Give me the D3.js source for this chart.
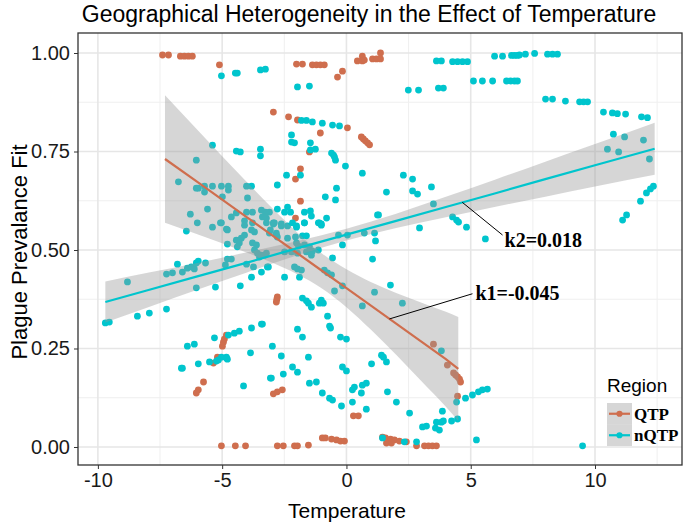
<!DOCTYPE html>
<html><head><meta charset="utf-8">
<script src="https://cdn.jsdelivr.net/npm/d3@7"></script>
<style>body{margin:0;background:#fff}</style>
</head><body><svg id="c" width="685" height="525"></svg>
<script>
const title = "Geographical Heterogeneity in the Effect of Temperature";
const xLabel = "Temperature", yLabel = "Plague Prevalance Fit";
const groups = ["QTP","nQTP"];
const colors = ["#CF6E4E","#00C5CD"];
const xTicks = [-10,-5,0,5,10];
const yTicks = [0,0.25,0.5,0.75,1];
const yTickLabels = ["0.00","0.25","0.50","0.75","1.00"];

const qtpPoints = [
[-7.40,0.995],[-7.16,0.995],[-6.68,0.992],[-6.52,0.992],[-6.36,0.992],[-6.20,0.992],[-5.11,0.970],
[-2.01,0.972],[-1.77,0.972],[-1.37,0.970],[-1.21,0.970],[-1.05,0.970],[-0.89,0.970],[-0.36,0.939],[-0.16,0.954],
[0.44,0.980],[0.64,0.992],[0.64,0.980],[0.72,0.982],[1.05,0.985],[1.21,0.985],[1.37,1.0],[1.37,0.985],
[-2.94,0.850],[-2.33,0.838],[-1.97,0.830],[-1.05,0.797],[0.04,0.810],
[0.60,0.787],[0.68,0.782],[0.76,0.777],[0.85,0.772],[0.93,0.767],
[-1.49,0.749],[-1.85,0.706],[-2.05,0.680],[-1.85,0.624],[-2.05,0.581],
[-2.82,0.368],[-2.80,0.375],[-2.78,0.381],
[-4.99,0.256],[-4.95,0.266],[-4.91,0.274],[-4.83,0.284],
[-5.19,0.228],[-5.35,0.213],[-5.75,0.165],[-5.96,0.145],[-6.04,0.137],
[-2.94,0.135],[-2.78,0.140],[-2.58,0.145],[0.28,0.079],[0.48,0.079],
[3.50,0.261],[4.06,0.208],[4.31,0.188],[4.39,0.183],[4.47,0.178],[4.55,0.172],[4.59,0.165],[4.47,0.129],
[-5.03,0.003],[-4.47,0.003],[-4.06,0.003],[-2.78,0.003],[-2.54,0.003],[-2.09,0.003],[-1.97,0.003],[-1.53,0.005],
[-0.97,0.023],[-0.85,0.023],[-0.60,0.020],[-0.40,0.018],[-0.24,0.015],[-0.08,0.015],
[1.45,0.025],[1.57,0.023],[1.77,0.020],[1.93,0.018],[2.13,0.015],[2.41,0.013],[1.61,0.010],[1.81,0.010],
[2.82,0.003],[3.14,0.003],[3.30,0.003],[3.46,0.003],[3.62,0.003]
];

const nqtpPoints = [
[-5.03,0.942],[-4.47,0.949],[-4.39,0.949],[-3.46,0.957],[-3.26,0.959],[-1.97,0.914],[-1.49,0.916],
[3.62,0.980],[3.82,0.980],[4.27,0.978],[4.47,0.978],[4.67,0.978],[4.87,0.978],
[5.96,0.992],[6.28,0.992],[6.64,0.994],[6.76,0.994],[6.88,0.994],[6.96,0.995],[7.20,0.997],[7.57,0.999],
[8.09,0.997],[8.29,0.997],[8.49,0.997],
[2.49,0.906],[2.90,0.906],[3.70,0.911],[3.90,0.911],
[5.11,0.929],[5.47,0.929],[5.88,0.929],[6.44,0.929],[6.60,0.929],[6.76,0.929],[6.88,0.929],
[8.01,0.883],[8.29,0.883],[8.81,0.878],[9.38,0.876],[9.54,0.876],[9.70,0.876],
[10.34,0.850],[10.70,0.848],[10.90,0.846],[11.23,0.845],[11.87,0.838],[12.11,0.836],
[10.74,0.794],[11.19,0.787],[11.95,0.779],[10.50,0.756],[10.95,0.749],[12.19,0.731],
[12.35,0.662],[12.23,0.655],[12.07,0.645],[11.83,0.624],[11.27,0.589],[11.11,0.576],
[-1.81,0.829],[-1.61,0.829],[-1.37,0.825],[-0.97,0.822],[-0.56,0.817],[-0.28,0.815],
[-5.39,0.766],[-6.04,0.728],[-4.43,0.751],[-4.27,0.749],[-3.46,0.756],[-3.46,0.739],
[-2.21,0.792],[-2.21,0.774],[-2.09,0.772],[-1.45,0.772],[-1.45,0.754],[-1.25,0.756],
[-0.60,0.746],[-0.52,0.741],[-0.48,0.736],[-0.44,0.728],
[-0.04,0.713],[0.64,0.695],[-2.41,0.690],[-1.85,0.690],[-2.78,0.665],[-0.40,0.657],[-0.85,0.635],[-0.44,0.627],
[-6.76,0.673],[-6.04,0.657],[-5.96,0.657],[-5.71,0.662],[-5.39,0.662],[-5.03,0.662],[-4.75,0.662],
[-5.71,0.647],[-4.75,0.652],[-4.02,0.662],[-3.82,0.662],[-4.99,0.635],[-3.98,0.632],
[-5.59,0.604],[-6.28,0.591],[-6.00,0.569],[-5.07,0.569],[-4.63,0.584],[-4.43,0.594],
[-4.02,0.596],[-3.78,0.596],[-3.42,0.601],[-3.26,0.596],[-3.10,0.596],[-4.10,0.574],[-3.78,0.569],
[-3.38,0.584],[-3.22,0.581],[-2.78,0.604],[-2.49,0.596],[-2.37,0.609],[-2.25,0.596],
[-1.69,0.596],[-1.45,0.599],[-1.41,0.586],[-0.80,0.581],[-1.13,0.569],[-1.01,0.566],
[-2.94,0.569],[-2.62,0.566],[-2.17,0.569],[-2.01,0.561],[-1.69,0.569],[1.25,0.589],
[2.29,0.690],[2.66,0.680],[3.42,0.660],[2.66,0.650],[2.86,0.642],[1.61,0.647],[3.50,0.617],[1.29,0.589],
[4.27,0.584],[4.43,0.576],[4.51,0.571],[4.83,0.558],[2.94,0.556],[5.59,0.528],
[-6.44,0.548],[-5.39,0.558],[-5.03,0.569],[-4.79,0.551],[-4.10,0.563],[-3.82,0.551],[-3.70,0.546],[-4.10,0.538],
[-4.23,0.530],[-4.43,0.525],[-4.31,0.518],[-4.39,0.508],
[-3.78,0.518],[-3.62,0.513],[-3.70,0.500],[-3.58,0.492],[-3.50,0.482],[-3.30,0.487],
[-4.79,0.515],[-4.83,0.553],[-3.06,0.551],[-2.82,0.538],[-2.90,0.569],
[-8.81,0.419],[-6.80,0.464],[-7.24,0.439],[-7.00,0.442],[-6.60,0.444],[-6.40,0.454],[-6.24,0.457],[-6.12,0.452],
[-6.04,0.467],[-5.96,0.472],[-5.67,0.467],
[-4.87,0.462],[-4.79,0.477],[-4.63,0.477],[-4.02,0.464],[-3.74,0.457],
[-6.04,0.404],[-5.27,0.406],[-4.27,0.409],[-3.82,0.431],[-3.42,0.444],[-3.14,0.457],
[-9.70,0.315],[-9.54,0.317],[-8.41,0.332],[-7.93,0.340],[-7.24,0.350],
[-3.22,0.569],[-2.94,0.566],[-2.62,0.561],[-2.37,0.561],[-2.01,0.558],[-1.69,0.569],[-1.09,0.569],[-1.01,0.563],
[-3.10,0.543],[-2.82,0.543],[-2.78,0.533],[-2.37,0.530],[-2.05,0.533],[-1.77,0.536],[-1.61,0.536],
[-0.32,0.538],[0.04,0.538],[0.72,0.543],[1.13,0.543],[1.17,0.523],[-0.16,0.513],
[-2.01,0.518],[-1.93,0.510],[-1.69,0.513],[-1.49,0.508],
[-2.49,0.495],[-2.21,0.495],[-1.97,0.492],[-1.61,0.495],[-1.37,0.497],[-1.13,0.500],[-1.41,0.487],
[-3.42,0.487],[-3.22,0.492],[-3.18,0.457],[-2.49,0.431],
[-2.09,0.457],[-1.97,0.452],[-1.81,0.449],[-1.89,0.431],
[-0.89,0.449],[-0.76,0.442],[-0.60,0.437],[-0.56,0.480],[1.05,0.477],
[-0.16,0.409],[-0.48,0.396],[1.13,0.393],[1.77,0.411],[2.25,0.365],
[-1.77,0.378],[-1.61,0.371],[-1.53,0.365],[-1.41,0.355],[-1.09,0.365],[-1.01,0.373],[-0.93,0.365],
[0.64,0.358],[-0.76,0.332],[-0.68,0.307],[-0.64,0.302],[-1.97,0.299],[-1.77,0.279],[-0.24,0.279],[0.00,0.274],[-3.38,0.312],
[-6.40,0.256],[-6.12,0.261],[-5.31,0.277],[-4.75,0.284],[-4.51,0.289],[-4.31,0.294],[-3.82,0.302],[-3.42,0.312],
[-2.98,0.256],[-3.86,0.239],[-5.03,0.228],[-4.83,0.228],
[-6.64,0.200],[-6.60,0.200],[-5.96,0.211],[-5.51,0.216],[-5.23,0.218],[-5.15,0.221],[-4.83,0.226],[-4.79,0.223],
[-4.14,0.155],[-3.06,0.175],
[-2.62,0.231],[-1.53,0.228],[-3.02,0.175],[-2.54,0.185],[-2.17,0.203],[-1.97,0.190],
[-1.49,0.162],[-1.21,0.165],[-0.97,0.137],[-0.68,0.124],[-0.56,0.119],[-0.16,0.203],[0.00,0.193],[-0.20,0.104],
[0.24,0.145],[0.32,0.152],[0.64,0.157],[0.80,0.162],[0.60,0.137],[0.24,0.114],[0.80,0.096],
[1.01,0.211],[1.41,0.233],[1.49,0.228],[1.61,0.216],[1.65,0.140],[2.01,0.114],[2.54,0.086],
[3.06,0.051],[3.22,0.053],[3.58,0.048],[3.74,0.043],[3.62,0.063],[3.82,0.063],[3.90,0.066],
[3.86,0.091],[4.23,0.066],[4.47,0.071],[3.82,0.244],[4.43,0.114],
[4.79,0.124],[5.07,0.132],[5.31,0.140],[5.47,0.145],[5.67,0.147],
[1.45,0.023],[2.33,0.013],[2.82,0.013],[5.23,0.018],[9.50,0.003]
];

// fitted lines and confidence bands
const qtpBandTemp = [-7.3,-6,-5,-4,-3,-2,-1,0,1,2,3,4,4.5];
const qtpBandFit  = [0.731,0.673,0.628,0.583,0.538,0.493,0.448,0.403,0.358,0.313,0.268,0.223,0.198];
const qtpBandLo   = [0.569,0.540,0.517,0.493,0.468,0.439,0.403,0.355,0.297,0.234,0.168,0.102,0.066];
const qtpBandHi   = [0.893,0.805,0.738,0.672,0.607,0.546,0.492,0.451,0.418,0.391,0.367,0.343,0.330];
const nqtpBandTemp = [-9.7,-8,-6,-4,-2,0,2,4,6,8,10,12.4];
const nqtpBandFit  = [0.368,0.398,0.433,0.468,0.504,0.539,0.574,0.609,0.644,0.680,0.715,0.757];
const nqtpBandLo   = [0.316,0.354,0.399,0.443,0.486,0.524,0.556,0.583,0.610,0.635,0.661,0.691];
const nqtpBandHi   = [0.420,0.442,0.467,0.494,0.522,0.554,0.592,0.635,0.679,0.724,0.769,0.823];

const annotations = [
  {text:"k2=0.018", from:[4.66,0.621], to:[6.28,0.538], at:[6.36,0.508]},
  {text:"k1=-0.045", from:[1.73,0.325], to:[5.07,0.389], at:[5.19,0.373]}
];

const svg = d3.select("#c");
const L=78, R=682, T=33, B=465;
const x = d3.scaleLinear().domain([-10.80,13.50]).range([L,R]);
const y = d3.scaleLinear().domain([-0.0457,1.0508]).range([B,T]);
const sans = "'Liberation Sans', Arial, sans-serif";
const serif = "'Liberation Serif', 'Times New Roman', serif";

svg.append("rect").attr("width",685).attr("height",525).attr("fill","#fff");

// grid
const g = svg.append("g");
const minorX = [-7.5,-2.5,2.5,7.5,12.5], minorY=[0.125,0.375,0.625,0.875];
g.selectAll(".mx").data(minorX).join("line").attr("x1",d=>x(d)).attr("x2",d=>x(d)).attr("y1",T).attr("y2",B).attr("stroke","#EFEFEF").attr("stroke-width",1);
g.selectAll(".my").data(minorY).join("line").attr("y1",d=>y(d)).attr("y2",d=>y(d)).attr("x1",L).attr("x2",R).attr("stroke","#EFEFEF").attr("stroke-width",1);
g.selectAll(".gx").data(xTicks).join("line").attr("x1",d=>x(d)).attr("x2",d=>x(d)).attr("y1",T).attr("y2",B).attr("stroke","#E6E6E6").attr("stroke-width",1.6);
g.selectAll(".gy").data(yTicks).join("line").attr("y1",d=>y(d)).attr("y2",d=>y(d)).attr("x1",L).attr("x2",R).attr("stroke","#E6E6E6").attr("stroke-width",1.6);

// points
const pts = svg.append("g");
pts.selectAll(".q").data(qtpPoints).join("circle").attr("cx",d=>x(d[0])).attr("cy",d=>y(d[1])).attr("r",3.4).attr("fill",colors[0]);
pts.selectAll(".n").data(nqtpPoints).join("circle").attr("cx",d=>x(d[0])).attr("cy",d=>y(d[1])).attr("r",3.4).attr("fill",colors[1]);

// bands
function band(tArr, lo, hi){
  return d3.area().x((d,i)=>x(tArr[i])).y0((d,i)=>y(lo[i])).y1((d,i)=>y(hi[i])).curve(d3.curveMonotoneX)(tArr);
}
svg.append("path").attr("d",band(qtpBandTemp,qtpBandLo,qtpBandHi)).attr("fill","#999").attr("fill-opacity",0.4);
svg.append("path").attr("d",band(nqtpBandTemp,nqtpBandLo,nqtpBandHi)).attr("fill","#999").attr("fill-opacity",0.4);
const ln = (tArr,f)=>d3.line().x((d,i)=>x(tArr[i])).y((d,i)=>y(f[i]))(tArr);
svg.append("path").attr("d",ln(qtpBandTemp,qtpBandFit)).attr("fill","none").attr("stroke",colors[0]).attr("stroke-width",2.2);
svg.append("path").attr("d",ln(nqtpBandTemp,nqtpBandFit)).attr("fill","none").attr("stroke",colors[1]).attr("stroke-width",2.2);

// annotations
annotations.forEach(a=>{
  svg.append("line").attr("x1",x(a.from[0])).attr("y1",y(a.from[1])).attr("x2",x(a.to[0])).attr("y2",y(a.to[1])).attr("stroke","#000").attr("stroke-width",1);
  svg.append("text").attr("x",x(a.at[0])).attr("y",y(a.at[1])).text(a.text).attr("font-family",serif).attr("font-weight","bold").attr("font-size",20).attr("fill","#000");
});

// panel border
svg.append("rect").attr("x",L).attr("y",T).attr("width",R-L).attr("height",B-T).attr("fill","none").attr("stroke","#333").attr("stroke-width",1.3);

// axes
const xa = svg.append("g").attr("transform",`translate(0,${B})`).call(d3.axisBottom(x).tickValues(xTicks).tickSize(4).tickPadding(4).tickFormat(d3.format("d")));
const ya = svg.append("g").attr("transform",`translate(${L},0)`).call(d3.axisLeft(y).tickValues(yTicks).tickSize(4).tickPadding(4).tickFormat((d,i)=>yTickLabels[i]));
[xa,ya].forEach(a=>{a.select(".domain").remove(); a.selectAll("line").attr("stroke","#333"); a.selectAll("text").attr("font-family",sans).attr("font-size",20).attr("fill","#1a1a1a");});
xa.selectAll("text").text(d=>d<0?"-"+Math.abs(d):d);

// titles
svg.append("text").attr("x",369).attr("y",22).attr("text-anchor","middle").attr("font-family",sans).attr("font-size",23).attr("fill","#000").text(title);
svg.append("text").attr("x",347).attr("y",518).attr("text-anchor","middle").attr("font-family",sans).attr("font-size",21).attr("fill","#000").text(xLabel);
svg.append("text").attr("transform",`translate(27,${252}) rotate(-90)`).attr("text-anchor","middle").attr("font-family",sans).attr("font-size",22).attr("fill","#000").text(yLabel);

// legend
const lg = svg.append("g").attr("transform","translate(607,0)");
lg.append("text").attr("x",0).attr("y",392).attr("font-family",sans).attr("font-size",19).attr("fill","#000").text("Region");
groups.forEach((gname,i)=>{
  const ky = 403 + i*21.5;
  lg.append("rect").attr("x",0).attr("y",ky).attr("width",25).attr("height",21.5).attr("fill","#999").attr("fill-opacity",0.4);
  lg.append("line").attr("x1",2).attr("x2",23).attr("y1",ky+10.75).attr("y2",ky+10.75).attr("stroke",colors[i]).attr("stroke-width",2.2);
  lg.append("circle").attr("cx",12.5).attr("cy",ky+10.75).attr("r",3.1).attr("fill",colors[i]);
  lg.append("text").attr("x",27).attr("y",ky+16.5).attr("font-family",serif).attr("font-weight","bold").attr("font-size",17).attr("fill","#000").text(gname);
});
</script></body></html>
